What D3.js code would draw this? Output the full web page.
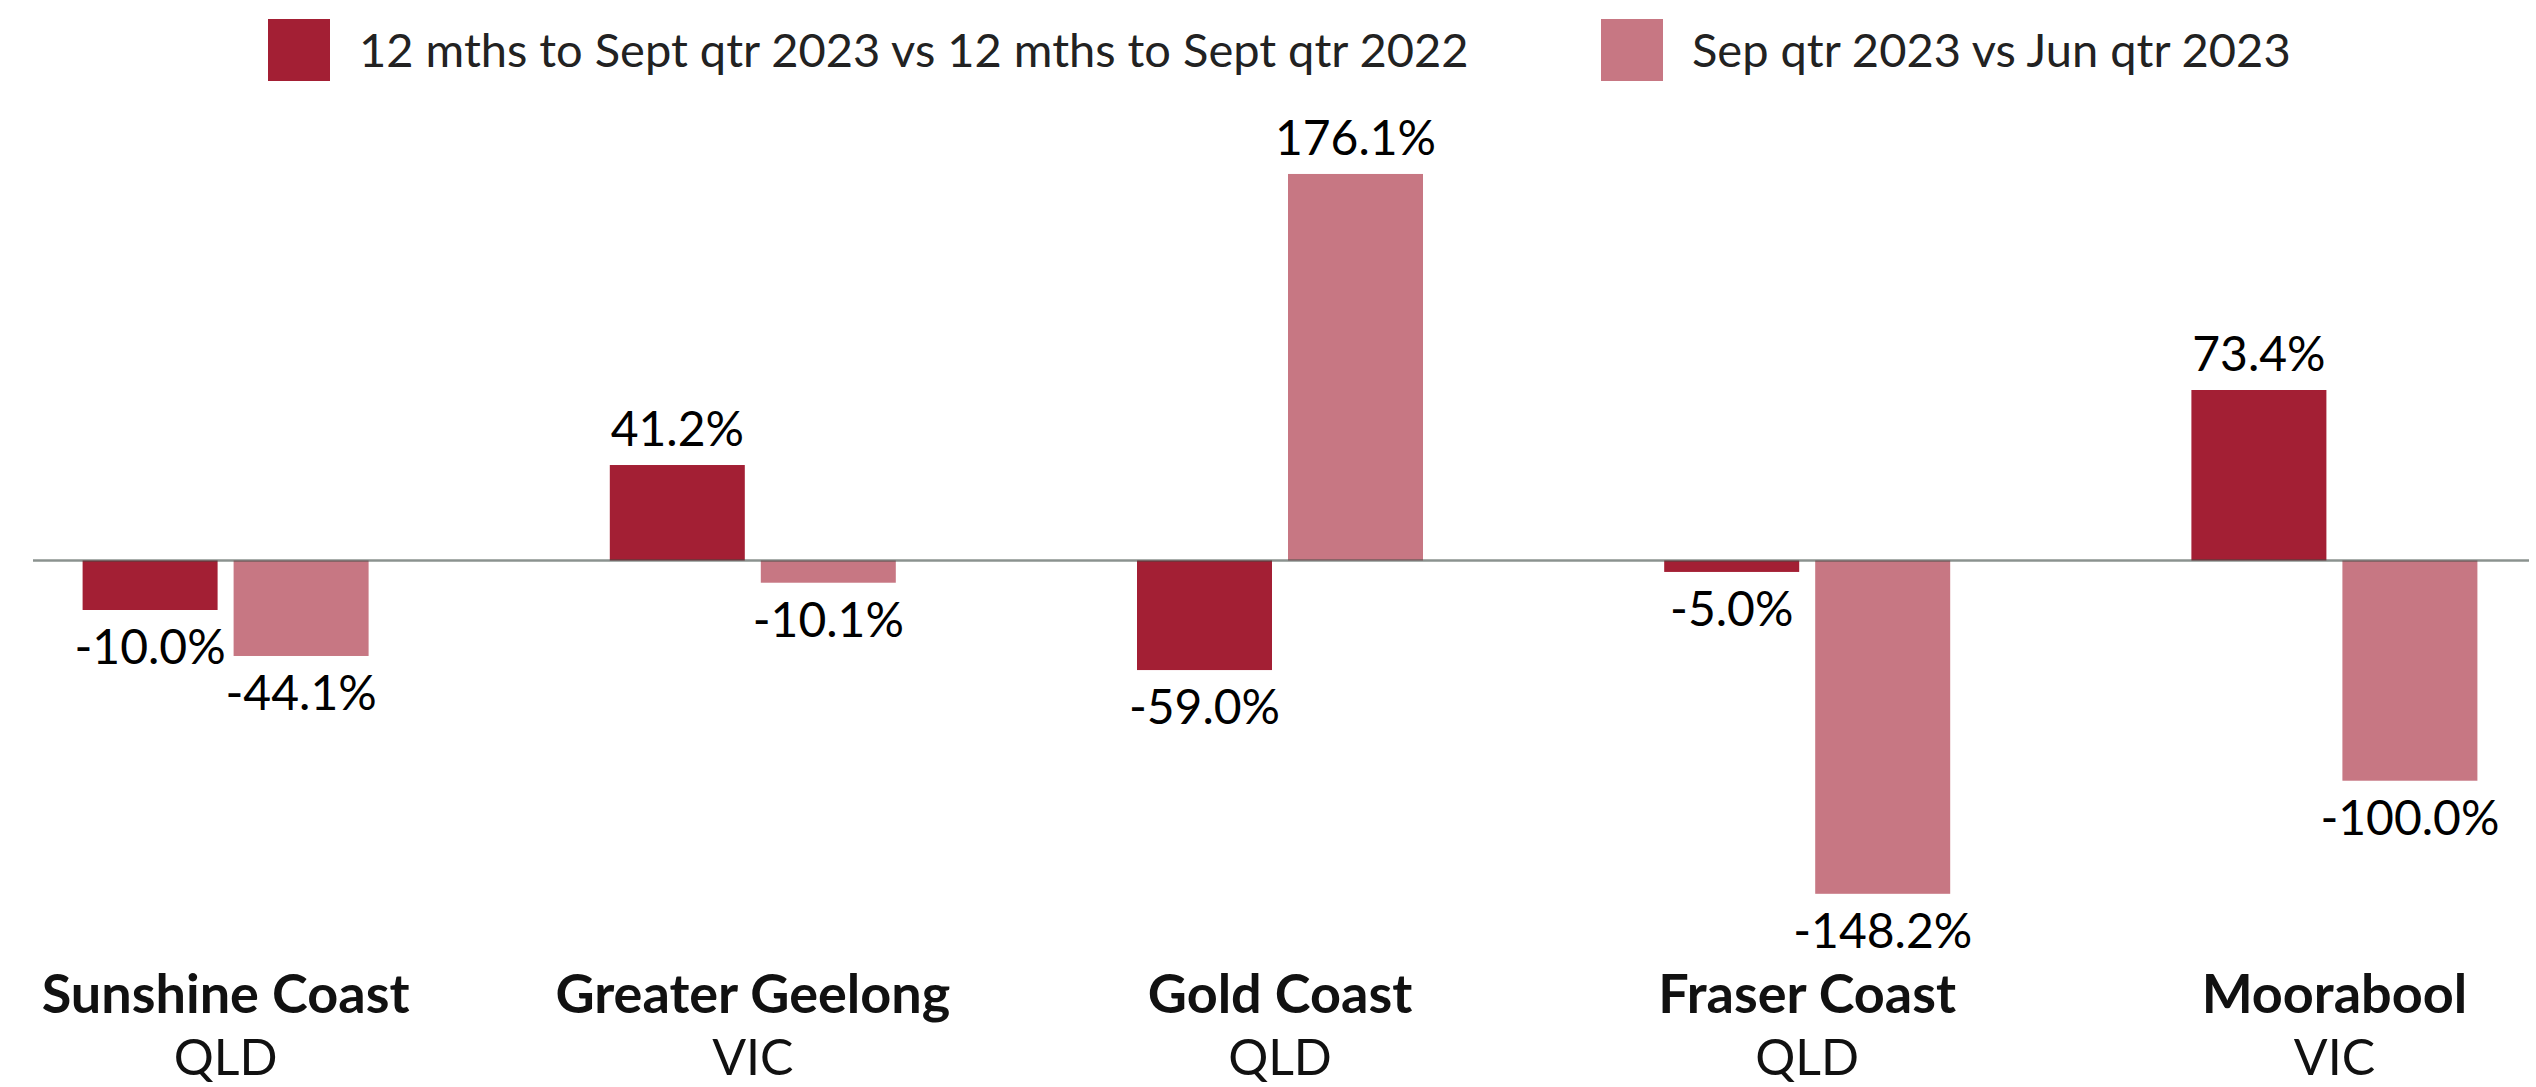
<!DOCTYPE html>
<html>
<head>
<meta charset="utf-8">
<script src="https://cdn.jsdelivr.net/npm/d3@7"></script>
<style>
  body { margin: 0; background: #fff; }
  text { font-family: Lato, "Open Sans", sans-serif; }
</style>
</head>
<body>
<div id="chart"></div>
<script>
//data
const regions = ["Sunshine Coast", "Greater Geelong", "Gold Coast", "Fraser Coast", "Moorabool"];
const states = ["QLD", "VIC", "QLD", "QLD", "VIC"];
const seriesNames = ["12 mths to Sept qtr 2023 vs 12 mths to Sept qtr 2022", "Sep qtr 2023 vs Jun qtr 2023"];
// bar heights
const annualValues = [-22.5, 43.4, -49.8, -5.2, 77.5];
const quarterValues = [-43.4, -10.1, 175.7, -151.5, -100.1];
// printed data labels
const annualLabels = ["-10.0%", "41.2%", "-59.0%", "-5.0%", "73.4%"];
const quarterLabels = ["-44.1%", "-10.1%", "176.1%", "-148.2%", "-100.0%"];
const colors = ["#A31F34", "#C77783"];

var width = 2536;
var height = 1087;

const svg = d3.select("#chart")
    .append("svg")
    .attr("width", width)
    .attr("height", height);

var rows = regions.map(function(r, i) {
    return { region: r, state: states[i],
        vals: [
            { s: 0, v: annualValues[i], label: annualLabels[i] },
            { s: 1, v: quarterValues[i], label: quarterLabels[i] }
        ] };
});

//scales
var xScale = d3.scaleBand().domain(regions).range([-38, 2598]);
var xInner = d3.scaleBand().domain([0, 1]).range([-143, 143]).paddingInner(0.106);
var yScale = d3.scaleLinear().domain([-200, 200]).range([1000.5, 120.5]);

//bars
const groups = svg.append("g").selectAll("g").data(rows).enter().append("g")
    .attr("transform", function(d) { return "translate(" + (xScale(d.region) + xScale.bandwidth() / 2) + ",0)"; });

groups.selectAll("rect").data(function(d) { return d.vals; }).enter().append("rect")
    .attr("x", function(d) { return xInner(d.s); })
    .attr("width", xInner.bandwidth())
    .attr("y", function(d) { return yScale(Math.max(0, d.v)); })
    .attr("height", function(d) { return Math.abs(yScale(d.v) - yScale(0)); })
    .style("fill", function(d) { return colors[d.s]; });

//value labels
groups.selectAll("text.val").data(function(d) { return d.vals; }).enter().append("text")
    .attr("class", "val")
    .attr("x", function(d) { return xInner(d.s) + xInner.bandwidth() / 2; })
    .attr("y", function(d) { return d.v >= 0 ? yScale(d.v) - 19 : yScale(d.v) + 54; })
    .attr("text-anchor", "middle")
    .style("font-size", "48px")
    .style("fill", "#000")
    .text(function(d) { return d.label; });

//zero line on top of bars
svg.append("line")
    .attr("x1", 33).attr("x2", 2529)
    .attr("y1", yScale(0)).attr("y2", yScale(0))
    .attr("stroke", "#3d4a45")
    .attr("stroke-opacity", 0.6)
    .attr("stroke-width", 2.5);

//category labels
groups.append("text")
    .attr("y", 1013)
    .attr("text-anchor", "middle")
    .style("font-size", "54px")
    .style("font-weight", "bold")
    .style("fill", "#111")
    .text(function(d) { return d.region; });

groups.append("text")
    .attr("y", 1075)
    .attr("text-anchor", "middle")
    .style("font-size", "50px")
    .style("fill", "#111")
    .text(function(d) { return d.state; });

//legend
var legendX = [268, 1601];
const legend = svg.append("g").selectAll("g").data(seriesNames).enter().append("g")
    .attr("transform", function(d, i) { return "translate(" + legendX[i] + ",19)"; });
legend.append("rect")
    .attr("width", 62).attr("height", 62)
    .style("fill", function(d, i) { return colors[i]; });
legend.append("text")
    .attr("x", 91).attr("y", 48)
    .style("font-size", "47px")
    .style("fill", "#222")
    .text(function(d) { return d; });
</script>
</body>
</html>
